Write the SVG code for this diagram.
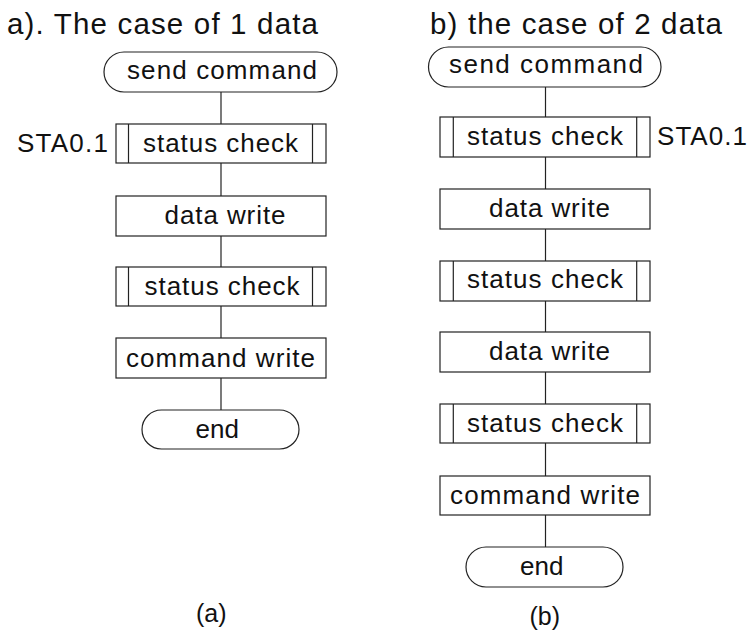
<svg xmlns="http://www.w3.org/2000/svg" width="747" height="633" viewBox="0 0 747 633">
<style>
text{font-family:"Liberation Sans",Arial,sans-serif;fill:#111;font-size:26px}
text.t{font-size:29.5px}
text.l{font-size:25px}
.b{fill:#fff;stroke:#222;stroke-width:1.2}
.i{stroke:#222;stroke-width:1.2}
.c line{stroke:#222;stroke-width:1.2}
</style>
<rect width="747" height="633" fill="#fff"/>
<text class="t" x="7" y="34" textLength="311" lengthAdjust="spacing">a). The case of 1 data</text>
<text class="t" x="430" y="34" textLength="292" lengthAdjust="spacing">b) the case of 2 data</text>
<g class="c">
<line x1="221" y1="92" x2="221" y2="124"/>
<line x1="221" y1="163" x2="221" y2="196"/>
<line x1="221" y1="236" x2="221" y2="267"/>
<line x1="221" y1="306" x2="221" y2="338"/>
<line x1="221" y1="378" x2="221" y2="410"/>
<line x1="545.5" y1="87" x2="545.5" y2="117"/>
<line x1="545.5" y1="157" x2="545.5" y2="189"/>
<line x1="545.5" y1="229" x2="545.5" y2="261"/>
<line x1="545.5" y1="301" x2="545.5" y2="332"/>
<line x1="545.5" y1="372" x2="545.5" y2="404"/>
<line x1="545.5" y1="443" x2="545.5" y2="476"/>
<line x1="545.5" y1="515" x2="545.5" y2="547"/>
</g>
<g id="a-start"><rect class="b" x="104" y="52" width="233" height="40" rx="20"/><text x="127" y="79" textLength="190" lengthAdjust="spacing">send command</text></g>
<g id="a-check1"><rect class="b" x="116" y="124" width="210" height="39"/><line class="i" x1="128.5" y1="124" x2="128.5" y2="163"/><line class="i" x1="312.5" y1="124" x2="312.5" y2="163"/><text x="143" y="152" textLength="155" lengthAdjust="spacing">status check</text></g>
<text id="a-sta" x="17" y="152" textLength="91" lengthAdjust="spacing">STA0.1</text>
<g id="a-data"><rect class="b" x="116" y="196" width="210" height="40"/><text x="164.5" y="223.5" textLength="121" lengthAdjust="spacing">data write</text></g>
<g id="a-check2"><rect class="b" x="116" y="267" width="210" height="39"/><line class="i" x1="128.5" y1="267" x2="128.5" y2="306"/><line class="i" x1="312.5" y1="267" x2="312.5" y2="306"/><text x="144.5" y="295" textLength="155" lengthAdjust="spacing">status check</text></g>
<g id="a-cmd"><rect class="b" x="116" y="338" width="210" height="40"/><text x="126" y="366.5" textLength="189" lengthAdjust="spacing">command write</text></g>
<g id="a-end"><rect class="b" x="142" y="410" width="157" height="39" rx="19.5"/><text x="195.5" y="438">end</text></g>
<text class="l" id="a-label" x="196" y="622">(a)</text>
<g id="b-start"><rect class="b" x="428.5" y="47" width="232.5" height="40" rx="20"/><text x="449" y="73" textLength="194" lengthAdjust="spacing">send command</text></g>
<g id="b-check1"><rect class="b" x="440" y="117" width="210" height="40"/><line class="i" x1="453.3" y1="117" x2="453.3" y2="157"/><line class="i" x1="636.7" y1="117" x2="636.7" y2="157"/><text x="467" y="145" textLength="156" lengthAdjust="spacing">status check</text></g>
<text id="b-sta" x="657" y="145" textLength="90" lengthAdjust="spacing">STA0.1</text>
<g id="b-data1"><rect class="b" x="440" y="189" width="210" height="40"/><text x="489" y="216.5" textLength="121" lengthAdjust="spacing">data write</text></g>
<g id="b-check2"><rect class="b" x="440" y="261" width="210" height="40"/><line class="i" x1="453.3" y1="261" x2="453.3" y2="301"/><line class="i" x1="636.7" y1="261" x2="636.7" y2="301"/><text x="467" y="288" textLength="156" lengthAdjust="spacing">status check</text></g>
<g id="b-data2"><rect class="b" x="440" y="332" width="210" height="40"/><text x="489" y="360" textLength="121" lengthAdjust="spacing">data write</text></g>
<g id="b-check3"><rect class="b" x="440" y="404" width="210" height="39"/><line class="i" x1="453.3" y1="404" x2="453.3" y2="443"/><line class="i" x1="636.7" y1="404" x2="636.7" y2="443"/><text x="467" y="432" textLength="156" lengthAdjust="spacing">status check</text></g>
<g id="b-cmd"><rect class="b" x="440" y="476" width="210" height="39"/><text x="450" y="503.5" textLength="190" lengthAdjust="spacing">command write</text></g>
<g id="b-end"><rect class="b" x="466" y="547" width="157" height="40" rx="20"/><text x="520" y="575">end</text></g>
<text class="l" id="b-label" x="529.5" y="625">(b)</text>
</svg>
